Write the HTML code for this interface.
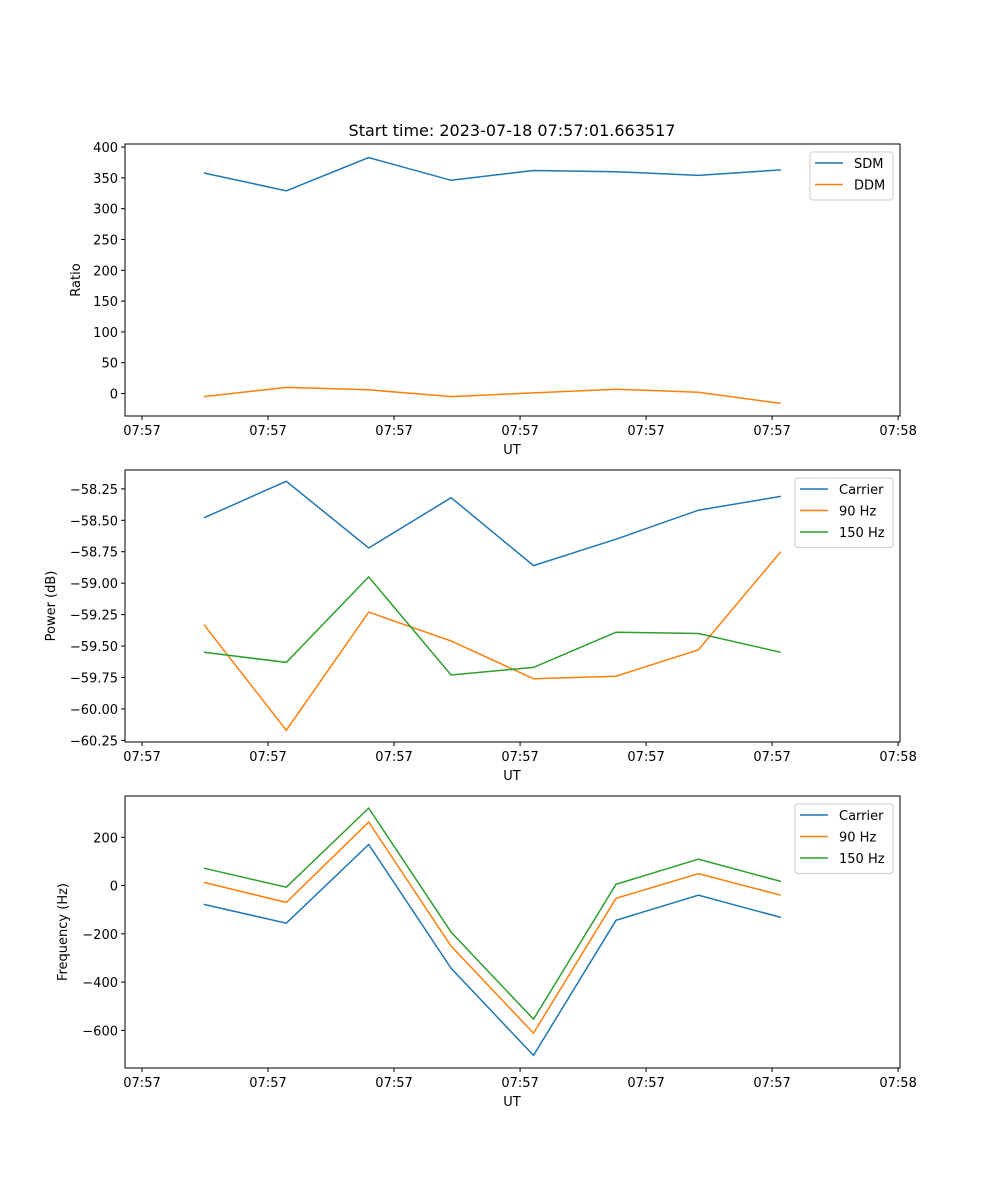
<!DOCTYPE html>
<html><head><meta charset="utf-8"><style>
html,body{margin:0;padding:0;background:#fff;}
svg{display:block;font-family:"DejaVu Sans","Liberation Sans",sans-serif;}
</style></head><body>
<svg id="fig" width="1000" height="1200" viewBox="0 0 1000 1200">
<text x="512" y="136" font-size="16" text-anchor="middle">Start time: 2023-07-18 07:57:01.663517</text>
</svg>
<script>
// x positions: seconds from 07:57:00
const times = [4.91, 11.45, 17.99, 24.53, 31.07, 37.61, 44.15, 50.69];
const xTickVals = [0, 10, 20, 30, 40, 50, 60];
const xTickLabels = ["07:57","07:57","07:57","07:57","07:57","07:57","07:58"];
const sdm = [358, 329, 383, 346, 362, 360, 354, 363];
const ddm = [-5, 10, 6, -5, 1, 7, 2, -16];
const pCarrier = [-58.48, -58.19, -58.72, -58.32, -58.86, -58.65, -58.42, -58.31];
const p90 = [-59.33, -60.17, -59.23, -59.46, -59.76, -59.74, -59.53, -58.75];
const p150 = [-59.55, -59.63, -58.95, -59.73, -59.67, -59.39, -59.40, -59.55];
const fCarrier = [-78, -156, 170, -343, -704, -144, -40, -132];
const f90 = [13, -70, 263, -251, -612, -53, 49, -40];
const f150 = [72, -7, 321, -193, -554, 5, 109, 17];
const ticks1 = [0, 50, 100, 150, 200, 250, 300, 350, 400];
const ticks2 = [-58.25, -58.5, -58.75, -59, -59.25, -59.5, -59.75, -60, -60.25];
const ticks3 = [200, 0, -200, -400, -600];

const NS = "http://www.w3.org/2000/svg";
const svg = document.getElementById("fig");
function el(tag, attrs, parent) {
  const e = document.createElementNS(NS, tag);
  for (const k in attrs) e.setAttribute(k, attrs[k]);
  (parent || svg).appendChild(e);
  return e;
}
const L = 125, R = 900;
const xMin = -1.35, xMax = 60.15;
function xs(t) { return L + (t - xMin) / (xMax - xMin) * (R - L); }

function panel(name, top, bottom, yMin, yMax, yTicks, fmt, ylabel, series, legend) {
  const g = el("g", {});
  
  
  const ys = v => bottom - (v - yMin) / (yMax - yMin) * (bottom - top);
  series.forEach(s => {
    const pts = s.vals.map((v, i) => xs(times[i]).toFixed(1) + "," + ys(v).toFixed(1)).join(" ");
    const pl = el("polyline", {points: pts, fill: "none", stroke: s.color, "stroke-width": 1.5}, g);
    
    
  });
  const frame = el("rect", {x: L, y: top, width: R - L, height: bottom - top, fill: "none", stroke: "#000", "stroke-width": 1}, g);
  
  
  xTickVals.forEach((v, i) => {
    const x = xs(v);
    el("line", {x1: x, x2: x, y1: bottom, y2: bottom + 4, stroke: "#000"}, g);
    const t = el("text", {x: x, y: bottom + 19, "font-size": 13, "text-anchor": "middle"}, g);
    t.textContent = xTickLabels[i];
    
    
  });
  yTicks.forEach(v => {
    const y = ys(v);
    el("line", {x1: L - 4, x2: L, y1: y, y2: y, stroke: "#000"}, g);
    const t = el("text", {x: L - 7, y: y + 5, "font-size": 13, "text-anchor": "end"}, g);
    t.textContent = fmt(v);
    
    
  });
  const xl = el("text", {x: 512, y: bottom + 38, "font-size": 13, "text-anchor": "middle"}, g);
  xl.textContent = "UT";
  
  
  const cy = (top + bottom) / 2;
  const yl = el("text", {x: ylabel.x, y: cy, "font-size": 13, "text-anchor": "middle", transform: "rotate(-90 " + ylabel.x + " " + cy + ")"}, g);
  yl.textContent = ylabel.text;
  
  
  // legend
  const lg = el("g", {}, g);
  
  
  el("rect", {x: legend.x, y: top + 8, width: 893 - legend.x, height: series.length * 21.5 + 5, rx: 3, fill: "#fff", stroke: "#ccc"}, lg);
  series.forEach((s, i) => {
    const y = top + 19 + i * 21.5;
    el("line", {x1: legend.x + 5, x2: legend.x + 33, y1: y, y2: y, stroke: s.color, "stroke-width": 1.5}, lg);
    const t = el("text", {x: legend.x + 44, y: y + 5, "font-size": 13}, lg);
    t.textContent = s.label;
    
    
  });
}
const minus = s => s.replace("-", "\u2212");
panel("ratio-panel", 144, 416, -36.5, 405, ticks1, v => minus(String(v)), {x: 80, text: "Ratio"},
  [{id: "sdm", label: "SDM", vals: sdm, color: "#1f77b4"}, {id: "ddm", label: "DDM", vals: ddm, color: "#ff7f0e"}], {x: 810});
panel("power-panel", 470, 742, -60.263, -58.1, ticks2, v => minus(v.toFixed(2)), {x: 55, text: "Power (dB)"},
  [{id: "power-carrier", label: "Carrier", vals: pCarrier, color: "#1f77b4"}, {id: "power-90hz", label: "90 Hz", vals: p90, color: "#ff7f0e"}, {id: "power-150hz", label: "150 Hz", vals: p150, color: "#2ca02c"}], {x: 795});
panel("frequency-panel", 796, 1068, -756, 371, ticks3, v => minus(String(v)), {x: 67, text: "Frequency (Hz)"},
  [{id: "freq-carrier", label: "Carrier", vals: fCarrier, color: "#1f77b4"}, {id: "freq-90hz", label: "90 Hz", vals: f90, color: "#ff7f0e"}, {id: "freq-150hz", label: "150 Hz", vals: f150, color: "#2ca02c"}], {x: 795});
</script>
</body></html>
